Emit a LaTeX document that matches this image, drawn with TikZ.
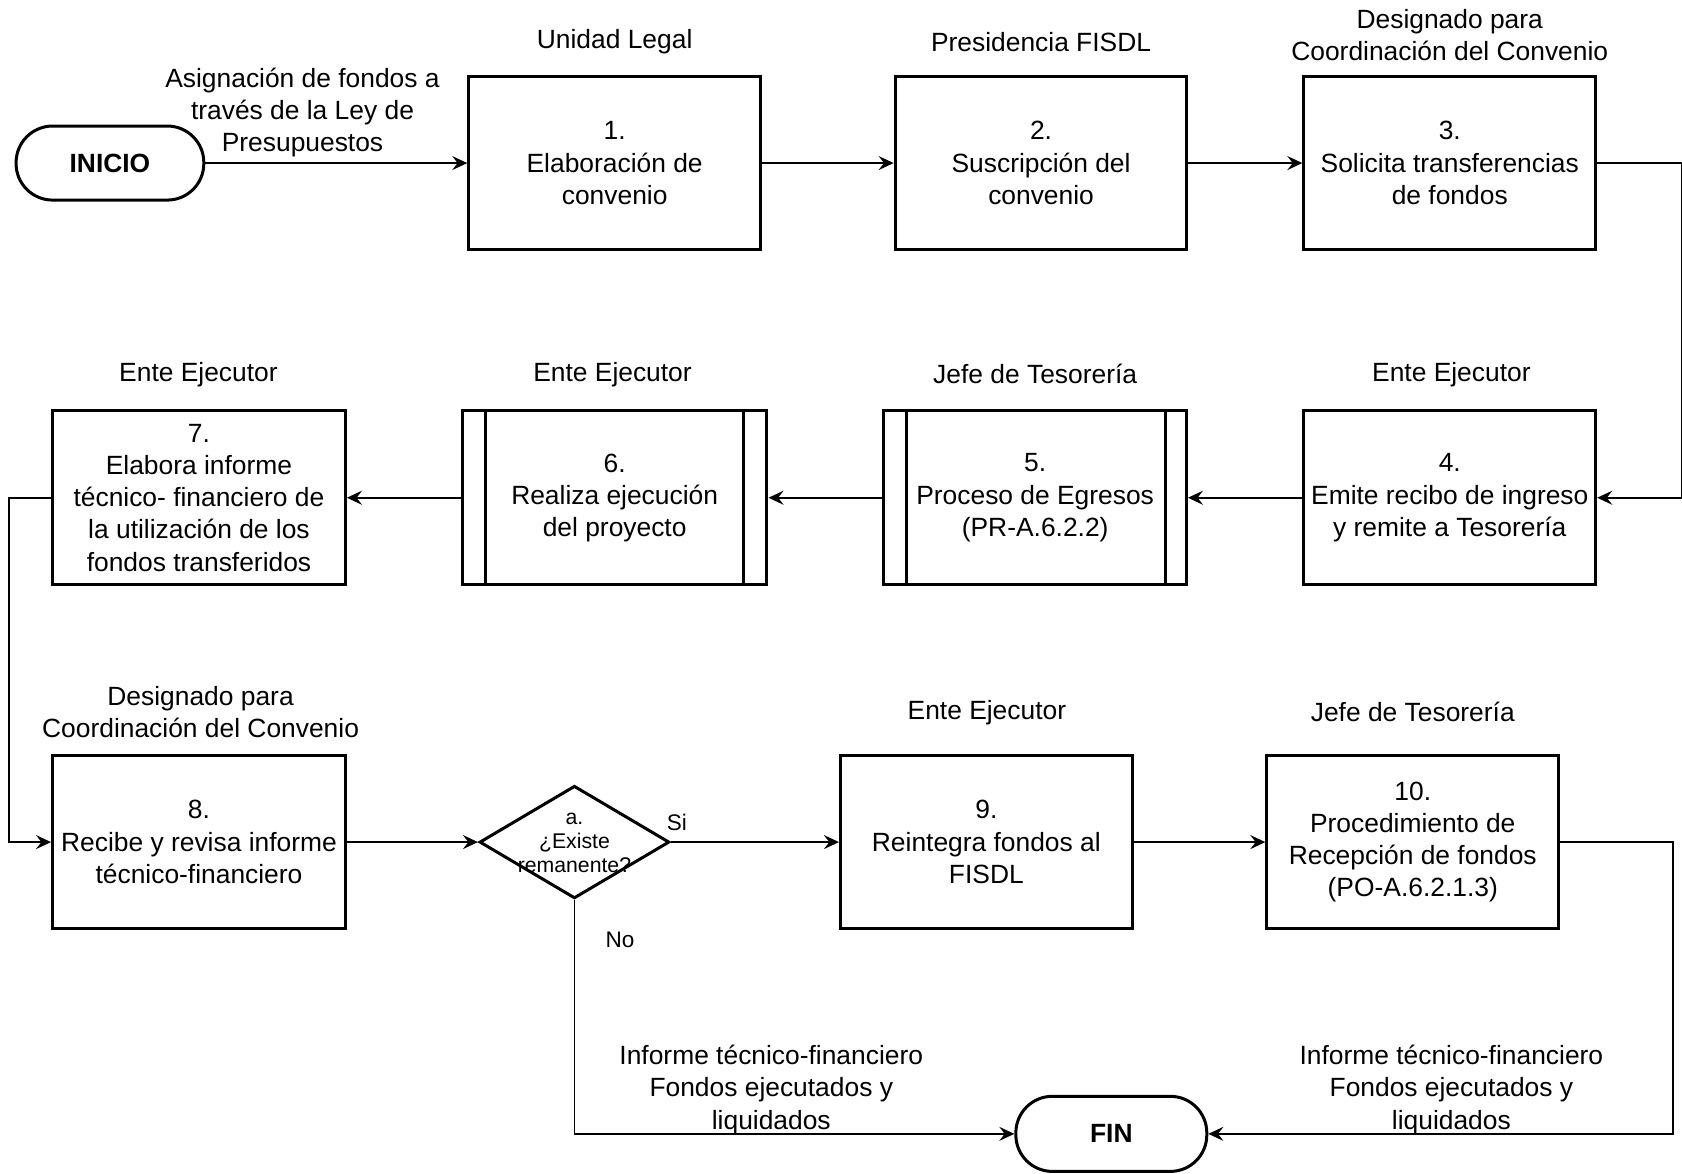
\documentclass[tikz,border=0pt]{standalone}
\usepackage{fontspec}
\setmainfont{Liberation Sans}
\usetikzlibrary{shapes.geometric,arrows.meta}
\begin{document}
\begin{tikzpicture}[x=0.5pt,y=-0.5pt,
  txt/.style={font=\fontsize{12.3}{15}\selectfont, align=center, inner sep=0pt},
  small/.style={font=\fontsize{9.9}{11.2}\selectfont, align=center, inner sep=0pt},
  box/.style={draw, line width=1.4pt, minimum width=136pt, minimum height=81pt, inner sep=0pt, txt},
  term/.style={draw, line width=1.4pt, rounded corners=17pt, minimum height=34.5pt, inner sep=0pt, font=\fontsize{12.3}{15}\selectfont\bfseries},
  dec/.style={draw, diamond, line width=1.4pt, minimum width=88.5pt, minimum height=52.5pt, inner sep=0pt},
  bar/.style={line width=1.4pt},
  arr/.style={line width=0.85pt, -{Stealth[length=7pt,width=6.5pt,inset=2.5pt]}},
]
\useasboundingbox[fill=white] (0,0) rectangle (1568,1094);

% Row 1
\node[term, minimum width=87.5pt] (ini) at (102.5,152) {INICIO};
\node[box] (b1) at (573,152) {1.\\Elaboración de\\convenio};
\node[box] (b2) at (970.5,152) {2.\\Suscripción del\\convenio};
\node[box] (b3) at (1351.5,152) {3.\\Solicita transferencias\\de fondos};
\node[txt] (r1) at (573,39) {Unidad Legal};
\node[txt] (r2) at (970.5,39) {Presidencia FISDL};
\node[txt] (r3) at (1351.5,32.5) {Designado para\\Coordinación del Convenio};
\node[txt] (la) at (282,105) {Asignación de fondos a\\través de la Ley de\\Presupuestos};

% Row 2
\node[box] (b4) at (1351.5,464) {4.\\Emite recibo de ingreso\\y remite a Tesorería};
\node[box, minimum width=141pt] (b5) at (965,464) {5.\\Proceso de Egresos\\(PR-A.6.2.2)};
\node[box, minimum width=142pt] (b6) at (573,464) {6.\\Realiza ejecución\\del proyecto};
\node[box, minimum width=136.5pt] (b7) at (185.5,464) {7.\\Elabora informe\\técnico- financiero de\\la utilización de los\\fondos transferidos};
\draw[bar] ([xshift=11pt]b5.north west) -- ([xshift=11pt]b5.south west);
\draw[bar] ([xshift=-10.5pt]b5.north east) -- ([xshift=-10.5pt]b5.south east);
\draw[bar] ([xshift=11.5pt]b6.north west) -- ([xshift=11.5pt]b6.south west);
\draw[bar] ([xshift=-11.5pt]b6.north east) -- ([xshift=-11.5pt]b6.south east);
\node[txt] (r4) at (1353,349) {Ente Ejecutor};
\node[txt] (r5) at (965,349) {Jefe de Tesorería};
\node[txt] (r6) at (571,349) {Ente Ejecutor};
\node[txt] (r7) at (185,349) {Ente Ejecutor};

% Row 3
\node[box, minimum width=136.5pt] (b8) at (185.5,785) {8.\\Recibe y revisa informe\\técnico-financiero};
\node[dec] (dia) at (535.5,785) {};
\node[small] (dt) at (535.5,785.5) {a.\\¿Existe\\remanente?};
\node[box] (b9) at (919.5,785) {9.\\Reintegra fondos al\\FISDL};
\node[box] (b10) at (1317,785) {10.\\Procedimiento de\\Recepción de fondos\\(PO-A.6.2.1.3)};
\node[txt] (r8) at (187,664) {Designado para\\Coordinación del Convenio};
\node[txt] (r9) at (920,664) {Ente Ejecutor};
\node[txt] (r10) at (1317,664) {Jefe de Tesorería};
\node[small, font=\fontsize{10.5}{12}\selectfont] (si) at (631,767) {Si};
\node[small, font=\fontsize{10.5}{12}\selectfont] (no) at (578,876) {No};

% FIN
\node[term, minimum width=89pt, minimum height=35pt] (fin) at (1036,1057) {FIN};
\node[txt] (lb1) at (719,1016) {Informe técnico-financiero\\Fondos ejecutados y\\liquidados};
\node[txt] (lb2) at (1353,1016) {Informe técnico-financiero\\Fondos ejecutados y\\liquidados};

% Connectors
\draw[arr] (ini) -- (b1);
\draw[arr] (b1) -- (b2);
\draw[arr] (b2) -- (b3);
\draw[arr] (b3.east) -- ++(79,0) |- (b4.east);
\draw[arr] (b4) -- (b5);
\draw[arr] (b5) -- (b6);
\draw[arr] (b6) -- (b7);
\draw[arr] (b7.west) -- ++(-39,0) |- (b8.west);
\draw[arr] (b8.east) -- (dia.west);
\draw[arr] (dia.east) -- (b9.west);
\draw[arr] (b9) -- (b10);
\draw[arr] (dia.south) |- (fin.west);
\draw[arr] (b10.east) -- ++(105,0) |- (fin.east);
\end{tikzpicture}
\end{document}
